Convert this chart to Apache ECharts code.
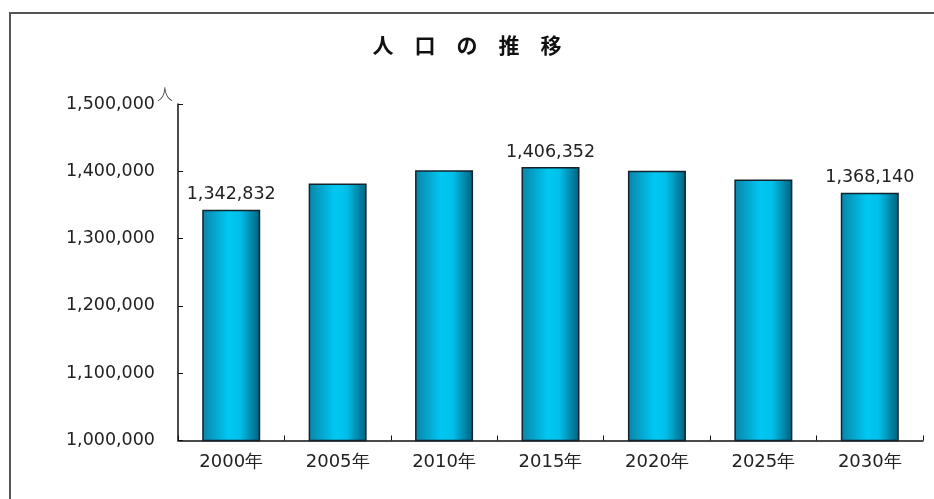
<!DOCTYPE html>
<html><head><meta charset="utf-8">
<script src="https://cdn.jsdelivr.net/npm/echarts@6/dist/echarts.min.js"></script>
<style>html,body{margin:0;padding:0;background:#fff}#c{width:934px;height:499px}</style>
</head><body><div id="c"></div>
<script>
const titleText = '人　口　の　推　移';
const unitText = '人';
const categories = ['2000年','2005年','2010年','2015年','2020年','2025年','2030年'];
const population = [1342832, 1381900, 1401500, 1406352, 1400800, 1387800, 1368140];
const labelled = [true, false, false, true, false, false, true];
const yMin = 1000000, yMax = 1500000, yStep = 100000;

const fmt = v => v.toLocaleString('en-US');
const chart = echarts.init(document.getElementById('c'));
chart.setOption({
  backgroundColor: '#fff',
  animation: false,
  title: {
    text: titleText, left: 'center', top: 30,
    textStyle: {fontFamily: 'Noto Sans CJK JP', fontSize: 21, fontWeight: 'bold', color: '#111'}
  },
  graphic: [
    {type: 'rect', shape: {x: 10, y: 13, width: 1000, height: 600},
     style: {fill: 'none', stroke: '#555', lineWidth: 2}, silent: true},
    {type: 'text', left: 157, top: 86,
     style: {text: unitText, fontFamily: 'Noto Sans CJK JP', fontSize: 16, fontWeight: 300, fill: '#333'}}
  ],
  grid: {left: 178, right: 11, top: 104, bottom: 58.5, containLabel: false},
  xAxis: {
    type: 'category', data: categories,
    axisLine: {lineStyle: {color: '#111', width: 1.5}},
    axisTick: {show: true, inside: true, length: 5, alignWithLabel: false, lineStyle: {color: '#111'}},
    axisLabel: {margin: 13, fontFamily: 'DejaVu Sans', fontSize: 18, color: '#222'}
  },
  yAxis: {
    type: 'value', min: yMin, max: yMax, interval: yStep,
    splitLine: {show: false},
    axisLine: {show: true, lineStyle: {color: '#111', width: 1.5}},
    axisTick: {show: true, inside: true, length: 5, lineStyle: {color: '#111'}},
    axisLabel: {margin: 23, fontFamily: 'DejaVu Sans', fontSize: 17.5, color: '#222', formatter: fmt}
  },
  series: [{
    type: 'bar', barWidth: 58,
    data: population.map((v, i) => ({
      value: v,
      label: {show: labelled[i], position: 'top', distance: 6,
        fontFamily: 'DejaVu Sans', fontSize: 17.5, color: '#222', formatter: p => fmt(p.value)}
    })),
    itemStyle: {
      borderColor: '#14222e', borderWidth: 1.5,
      color: new echarts.graphic.LinearGradient(0, 0, 1, 0, [
        {offset: 0, color: '#0a84a8'},
        {offset: 0.45, color: '#00c8f2'},
        {offset: 0.65, color: '#00c0ea'},
        {offset: 1, color: '#005f7c'}
      ])
    }
  }]
});
</script></body></html>
